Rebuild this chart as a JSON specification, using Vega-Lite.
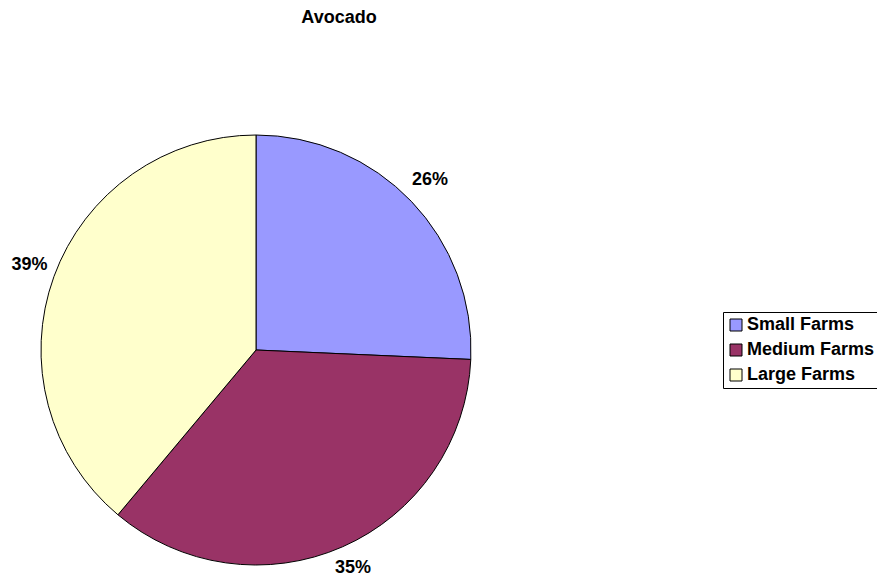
{
  "$schema": "https://vega.github.io/schema/vega-lite/v6.json",
  "autosize": "none",
  "width": 430,
  "height": 430,
  "padding": {"left": 41, "top": 135, "right": 406, "bottom": 12},
  "background": "white",
  "config": {"view": {"stroke": null}, "font": "Liberation Sans"},
  "title": {"text": "Avocado", "fontSize": 18, "font": "Liberation Sans", "fontWeight": "bold", "color": "black", "anchor": "middle", "dx": 83, "offset": 106},
  "data": {"values": [
    {"farm": "Small Farms", "value": 25.7, "label": "26%", "order": 1},
    {"farm": "Medium Farms", "value": 35.4, "label": "35%", "order": 2},
    {"farm": "Large Farms", "value": 38.9, "label": "39%", "order": 3}
  ]},
  "encoding": {
    "theta": {"field": "value", "type": "quantitative", "stack": true},
    "order": {"field": "order", "type": "quantitative"}
  },
  "layer": [
    {
      "mark": {"type": "arc", "radius": 215, "stroke": "black", "strokeWidth": 1},
      "encoding": {
        "color": {
          "field": "farm", "type": "nominal",
          "scale": {"domain": ["Small Farms", "Medium Farms", "Large Farms"], "range": ["#9999FF", "#993366", "#FFFFCC"]},
          "legend": {
            "title": null, "orient": "none", "legendX": 682, "legendY": 177,
            "symbolType": "square", "symbolSize": 144, "symbolStrokeColor": "black", "symbolStrokeWidth": 1,
            "labelFont": "Liberation Sans", "labelFontSize": 18, "labelFontWeight": "bold", "labelColor": "black",
            "strokeColor": "black", "fillColor": "white", "padding": 4, "rowPadding": 7, "labelOffset": 2
          }
        }
      }
    },
    {
      "mark": {"type": "text", "radius": 241, "dy": -3, "fontSize": 18, "fontWeight": "bold", "font": "Liberation Sans", "color": "black"},
      "encoding": {"text": {"field": "label"}}
    }
  ]
}
